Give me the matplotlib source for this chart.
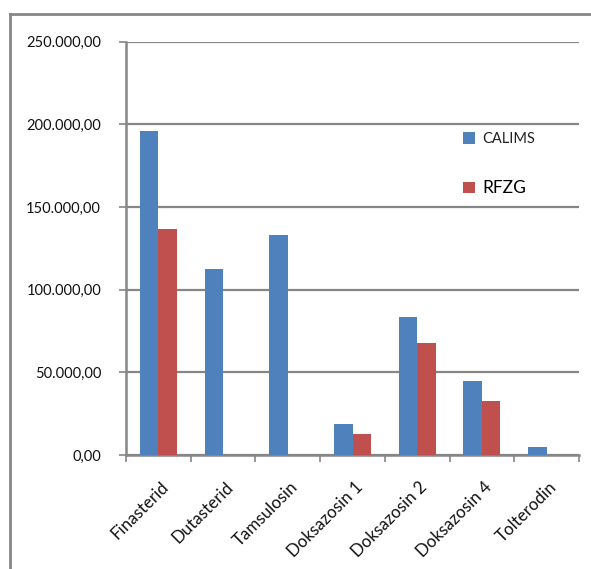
import matplotlib
matplotlib.use("Agg")
import matplotlib.pyplot as plt
import numpy as np
from matplotlib.ticker import FuncFormatter, FixedLocator
from matplotlib.patches import Patch
from matplotlib.lines import Line2D
import matplotlib.transforms as mtrans

categories = ["Finasterid", "Dutasterid", "Tamsulosin", "Doksazosin 1",
              "Doksazosin 2", "Doksazosin 4", "Tolterodin"]
calims = [195900, 112600, 133000, 18700, 83400, 44700, 4800]
rfzg = [136600, 0, 0, 12700, 67700, 32600, 0]
series_names = ["CALIMS", "RFZG"]
yticks = [0, 50000, 100000, 150000, 200000, 250000]

BLUE = "#4F81BD"
RED = "#C0504D"
GRAY = "#868686"
FONT = "Lato"

fig = plt.figure(figsize=(5.91, 5.69), dpi=100)
ax = fig.add_axes([126/591, 1-455/569, (579-126)/591, (455-41.7)/569])

x = np.arange(len(categories))
w = 0.285
ax.bar(x - w/2, calims, w, color=BLUE, zorder=3)
ax.bar(x + w/2, rfzg, w, color=RED, zorder=3)

ax.set_xlim(-0.5, len(categories) - 0.5)
ax.set_ylim(0, 250000)
ax.set_yticks(yticks)

def fmt(v, pos):
    s = "{:,.2f}".format(v)
    return s.replace(",", "X").replace(".", ",").replace("X", ".")
ax.yaxis.set_major_formatter(FuncFormatter(fmt))
ax.yaxis.grid(True, color=GRAY, linewidth=1.6, zorder=0)
ax.set_axisbelow(True)

for s in ["top", "right"]:
    ax.spines[s].set_visible(False)
for s in ["left", "bottom"]:
    ax.spines[s].set_color(GRAY)
    ax.spines[s].set_linewidth(1.8)

ax.tick_params(axis="y", direction="out", length=5, width=1.2, color=GRAY,
               pad=13, labelsize=10.5, labelcolor="#111111")
for t in ax.get_yticklabels():
    t.set_fontfamily(FONT)

ax.set_xticks(x)
ax.set_xticklabels([])
ax.tick_params(axis="x", which="major", length=0)
ax.xaxis.set_minor_locator(FixedLocator(np.arange(-0.5, len(categories), 1.0)))
ax.tick_params(axis="x", which="minor", direction="out", length=5, width=1.2, color=GRAY)

for i, c in enumerate(categories):
    trans = mtrans.blended_transform_factory(ax.transData, fig.transFigure)
    ax.text(i, 1 - 479/569, c,
            transform=trans + mtrans.ScaledTranslation(2/100, 0, fig.dpi_scale_trans),
            rotation=45, rotation_mode="anchor", ha="right", va="top",
            fontsize=12.2, fontfamily=FONT, color="#111111")

h1 = Patch(facecolor=BLUE, edgecolor="none")
h2 = Patch(facecolor=RED, edgecolor="none")
leg = ax.legend([h1, h2], series_names, loc="upper left",
                bbox_to_anchor=(450/591, 1-119/569), bbox_transform=fig.transFigure,
                frameon=False, handlelength=0.8, handleheight=0.8, handletextpad=0.5,
                labelspacing=2.3, prop={"family": FONT, "size": 10.5})
texts = leg.get_texts()
texts[0].set_color("#222222")
texts[1].set_fontsize(12.5)

fig.add_artist(Line2D([10/591, 10/591], [0, 1-13.5/569], transform=fig.transFigure,
                      color=GRAY, linewidth=2))
fig.add_artist(Line2D([10/591, 1], [1-13.5/569, 1-13.5/569], transform=fig.transFigure,
                      color=GRAY, linewidth=2))

fig.savefig("out.png", dpi=100)
